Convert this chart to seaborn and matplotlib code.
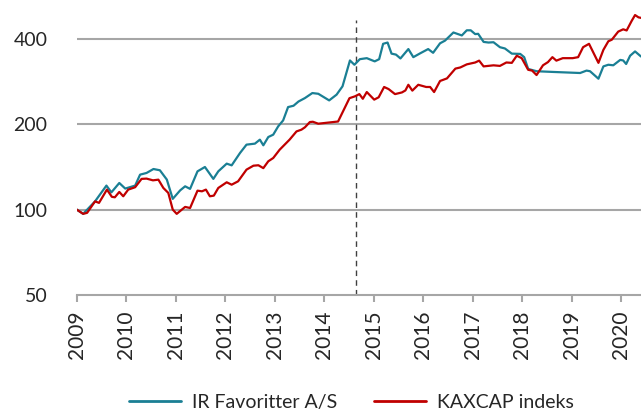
import pandas as pd
import seaborn as sns
import matplotlib
matplotlib.use("Agg")
import matplotlib.pyplot as plt
from matplotlib.lines import Line2D

# decimal years and index values (start = 100)
ir_years = [2009.0, 2009.13, 2009.37, 2009.6, 2009.7, 2009.86, 2009.98, 2010.18, 2010.28, 2010.41,
            2010.55, 2010.68, 2010.82, 2010.94, 2011.09, 2011.19, 2011.29, 2011.44, 2011.59, 2011.76,
            2011.86, 2012.03, 2012.13, 2012.30, 2012.43, 2012.60, 2012.70, 2012.77, 2012.87, 2012.97,
            2013.07, 2013.17, 2013.27, 2013.38, 2013.48, 2013.61, 2013.76, 2013.88, 2014.10, 2014.25,
            2014.37, 2014.52, 2014.61, 2014.72, 2014.86, 2015.02, 2015.11, 2015.19, 2015.28, 2015.36,
            2015.45, 2015.54, 2015.70, 2015.80, 2015.94, 2016.10, 2016.20, 2016.34, 2016.44, 2016.61,
            2016.78, 2016.88, 2016.96, 2017.05, 2017.11, 2017.22, 2017.32, 2017.42, 2017.55, 2017.65,
            2017.79, 2017.96, 2018.04, 2018.12, 2018.29, 2018.63, 2019.17, 2019.30, 2019.37, 2019.54,
            2019.64, 2019.74, 2019.84, 2019.98, 2020.04, 2020.10, 2020.18, 2020.28, 2020.40]
ir_values = [100, 96.6, 106.9, 121.5, 115, 124.1, 118.6, 121.5, 132.8, 134.6,
             139, 137.6, 127.6, 109.1, 116.9, 120.8, 118.3, 136.4, 141.3, 128.3,
             136.4, 145.2, 143.2, 158.4, 169.4, 170.8, 176.4, 168.5, 180.2, 183.7,
             196.5, 206.2, 229.8, 232.3, 240.4, 247.2, 257.5, 256, 242.6, 254.2,
             272, 335.5, 324, 339, 341.8, 333, 339, 384, 388, 354.6,
             351.8, 341, 368, 344.6, 355.6, 368, 357, 385.6, 394, 421,
             411, 428.5, 428.5, 415.5, 416.5, 390, 388, 389, 373.6, 369.8,
             354.6, 353.8, 344.6, 313.2, 307.4, 305.6, 303, 309, 307.4, 289.3,
             319.7, 324, 322.6, 337, 335.5, 326, 348.6, 361, 346.4]

kax_years = [2009.0, 2009.13, 2009.21, 2009.37, 2009.45, 2009.61, 2009.71, 2009.77, 2009.86, 2009.94,
             2010.04, 2010.18, 2010.31, 2010.41, 2010.54, 2010.65, 2010.75, 2010.85, 2010.94, 2011.02,
             2011.19, 2011.29, 2011.44, 2011.53, 2011.61, 2011.69, 2011.77, 2011.86, 2012.03, 2012.13,
             2012.26, 2012.43, 2012.57, 2012.67, 2012.77, 2012.87, 2012.97, 2013.10, 2013.30, 2013.44,
             2013.54, 2013.61, 2013.71, 2013.77, 2013.88, 2014.28, 2014.51, 2014.62, 2014.71, 2014.78,
             2014.86, 2015.01, 2015.10, 2015.21, 2015.30, 2015.43, 2015.57, 2015.64, 2015.70, 2015.78,
             2015.90, 2016.06, 2016.14, 2016.22, 2016.34, 2016.48, 2016.65, 2016.75, 2016.88, 2017.05,
             2017.13, 2017.22, 2017.42, 2017.55, 2017.68, 2017.79, 2017.89, 2017.99, 2018.12, 2018.20,
             2018.29, 2018.42, 2018.52, 2018.61, 2018.69, 2018.82, 2019.02, 2019.13, 2019.23, 2019.35,
             2019.54, 2019.64, 2019.74, 2019.81, 2019.94, 2020.04, 2020.11, 2020.21, 2020.28, 2020.35,
             2020.40]
kax_values = [100, 96.6, 97.4, 106.9, 105.6, 117.6, 110.9, 110.5, 115.4, 111.4,
              117.6, 119.9, 128.3, 128.6, 126.8, 127.5, 119.2, 114.5, 100, 96.6,
              102.2, 101.3, 116.6, 116, 117.6, 111.4, 112, 119.2, 124.8, 122.4,
              125.8, 138.3, 142.8, 143.3, 140, 148, 152, 162.6, 176.4, 188.6,
              191.3, 195, 203.5, 204, 200.8, 204.4, 247, 250.7, 255.3, 245.8,
              259.6, 244.1, 248.8, 270.5, 266, 255.3, 258.8, 263, 275.4, 262.6,
              275.4, 270.5, 270.5, 259.6, 284, 290, 314, 317, 325, 330,
              335, 319.7, 322.5, 321, 330, 329, 348.6, 341.8, 311, 309,
              298, 322.6, 331, 344.6, 335, 341.8, 341.8, 344.6, 373.6, 384,
              329, 365.6, 392, 397, 424, 432, 428, 462, 485, 476,
              474]

series_names = ["IR Favoritter A/S", "KAXCAP indeks"]
colors = {"IR Favoritter A/S": "#1a7f94", "KAXCAP indeks": "#c00000"}
year_ticks = list(range(2009, 2021))
y_ticks = [50, 100, 200, 400]
listing_date = 2014.64

df = pd.concat([
    pd.DataFrame({"year": ir_years, "value": ir_values, "series": series_names[0]}),
    pd.DataFrame({"year": kax_years, "value": kax_values, "series": series_names[1]}),
])

sns.set_style("white")
plt.rcParams["font.family"] = ["Lato", "DejaVu Sans"]
plt.rcParams["font.size"] = 14

fig = plt.figure(figsize=(6.41, 4.12), dpi=100)
ax = fig.add_axes([0.1197, 0.284, 0.8803, 0.716])

sns.lineplot(data=df, x="year", y="value", hue="series", palette=colors,
             linewidth=1.6, ax=ax, legend=False, estimator=None, sort=False)

ax.set_yscale("log", base=2)
ax.set_ylim(50, 548)
ax.set_xlim(2009, 2020.40)
ax.set_yticks(y_ticks)
ax.set_yticklabels([str(v) for v in y_ticks])
ax.yaxis.set_minor_locator(matplotlib.ticker.NullLocator())
ax.set_xticks(year_ticks)
ax.set_xticklabels([str(y) for y in year_ticks], rotation=90, fontsize=15)
ax.set_xlabel("")
ax.set_ylabel("")

for v in y_ticks[1:]:
    ax.axhline(v, color="#a6a6a6", linewidth=1.5, zorder=0)

ax.axvline(listing_date, ymin=0, ymax=0.932, color="#404040", linewidth=1,
           linestyle=(0, (4, 3)), zorder=1)

for side in ["left", "right", "top"]:
    ax.spines[side].set_visible(False)
ax.spines["bottom"].set_color("#a6a6a6")
ax.spines["bottom"].set_linewidth(1.5)
ax.tick_params(axis="y", length=0, pad=21)
ax.tick_params(axis="x", direction="out", length=5, width=1.5, color="#a6a6a6", pad=6, bottom=True)

handles = [Line2D([], [], color=colors[n], linewidth=2) for n in series_names]
fig.legend(handles, series_names, loc="center", bbox_to_anchor=(0.548, 0.024), ncol=2,
           frameon=False, handlelength=2.7, handletextpad=0.55, columnspacing=1.9,
           borderaxespad=0, borderpad=0)

fig.savefig("out.png", dpi=100)
